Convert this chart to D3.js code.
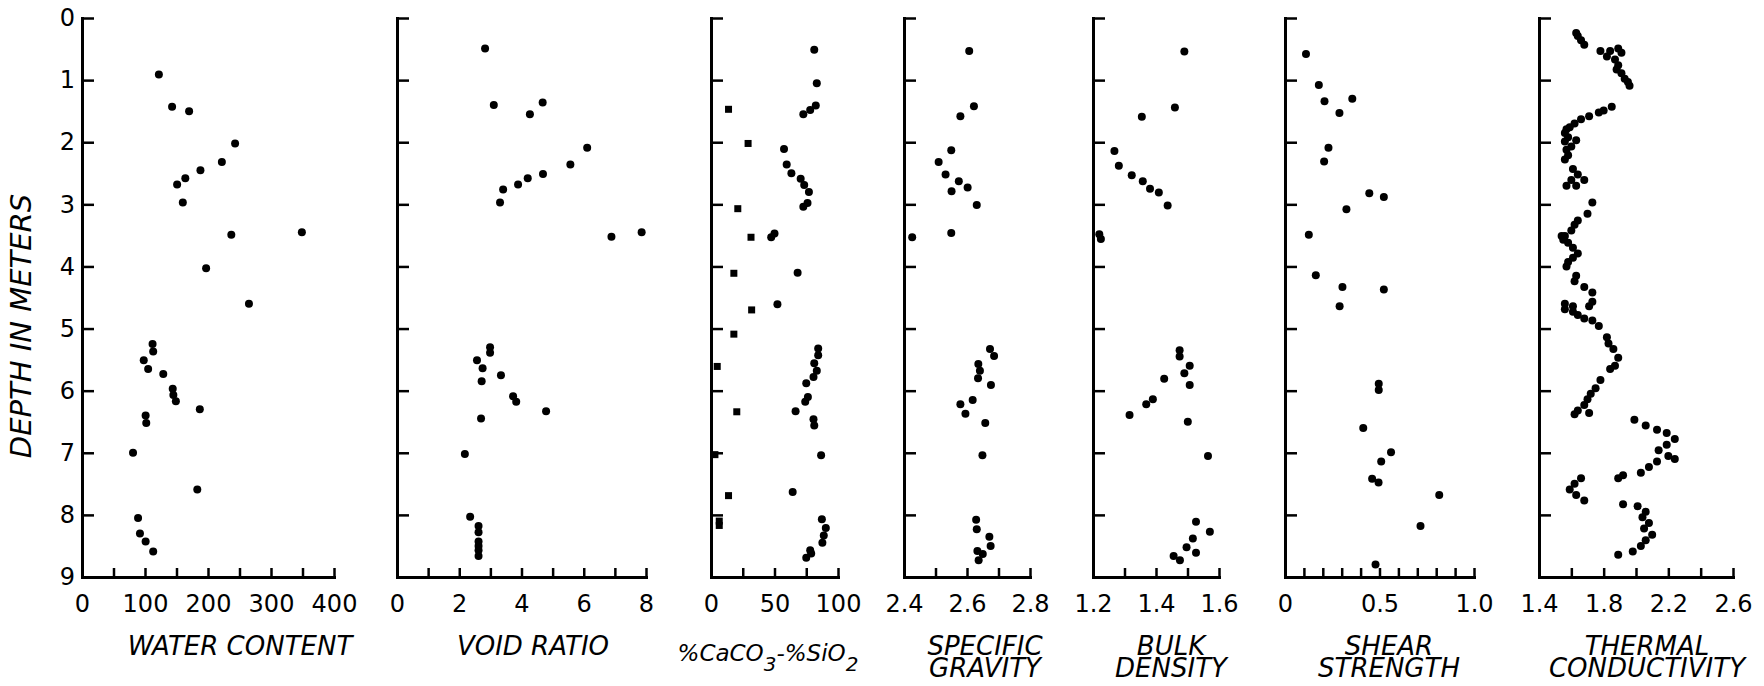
<!DOCTYPE html>
<html><head><meta charset="utf-8">
<script src="https://cdn.jsdelivr.net/npm/d3@7"></script>
<style>body{margin:0;background:#fff}svg{display:block}</style>
</head><body>
<svg id="chart" width="1764" height="686"></svg>
<script>
// ---------- data ----------
const depthTicks = [0,1,2,3,4,5,6,7,8,9];

const waterDepth = [0.91,1.43,1.50,2.02,2.32,2.45,2.58,2.68,2.97,3.49,3.45,4.03,4.60,5.25,5.37,5.51,5.65,5.73,5.97,6.07,6.17,6.30,6.40,6.52,7.00,7.59,8.05,8.30,8.43,8.59];
const waterContent = [122,143,170,243,222,188,164,151,160,237,349,197,265,112,113,98,105,129,144,145,149,187,101,102,81,183,89,92,101,113];
const waterTicks = [0,50,100,150,200,250,300,350,400];
const waterLabels = [0,100,200,300,400];

const voidDepth = [0.49,1.40,1.36,1.55,2.09,2.36,2.51,2.58,2.68,2.76,2.97,3.52,3.45,5.30,5.39,5.51,5.64,5.75,5.85,6.09,6.18,6.33,6.45,7.02,8.03,8.18,8.28,8.43,8.50,8.57,8.66];
const voidRatio = [2.83,3.11,4.68,4.27,6.11,5.57,4.69,4.20,3.89,3.41,3.31,6.89,7.86,2.99,2.99,2.57,2.75,3.34,2.72,3.73,3.83,4.79,2.70,2.18,2.35,2.62,2.62,2.62,2.62,2.62,2.62];
const voidTicks = [0,1,2,3,4,5,6,7,8];
const voidLabels = [0,2,4,6,8];

const carbDepth = [0.51,1.05,1.41,1.48,1.55,2.11,2.36,2.50,2.59,2.69,2.80,2.98,3.04,3.47,3.53,4.10,4.61,5.32,5.43,5.56,5.68,5.78,5.88,6.10,6.18,6.33,6.46,6.56,7.04,7.63,8.07,8.21,8.33,8.45,8.57,8.62,8.69];
const carbPct = [81.3,83.3,82.5,78.1,72.7,57.5,59.6,63.3,70.6,73.4,77.1,76.0,72.7,50.0,47.4,68.2,52.3,84.4,84.4,81.3,83.3,80.7,75.0,76.3,74.2,66.6,80.7,81.3,86.7,64.3,87.3,90.4,88.8,87.7,78.1,78.9,75.0];
const silicaDepth = [1.47,2.02,3.07,3.53,4.11,4.70,5.09,5.61,6.34,7.03,7.69,8.10,8.17];
const silicaPct = [13.8,29.2,21.1,31.5,18.0,32.0,18.0,4.9,20.3,3.1,13.8,6.5,6.5];
const chemTicks = [0,25,50,75,100];
const chemLabels = [0,50,100];

const sgDepth = [0.53,1.42,1.58,2.13,2.32,2.52,2.63,2.73,2.79,3.01,3.46,3.53,5.33,5.44,5.57,5.68,5.80,5.91,6.15,6.22,6.37,6.52,7.04,8.08,8.23,8.35,8.50,8.58,8.63,8.73];
const sgValue = [2.607,2.622,2.579,2.550,2.510,2.532,2.574,2.602,2.551,2.631,2.550,2.426,2.673,2.686,2.636,2.641,2.635,2.676,2.618,2.579,2.595,2.658,2.649,2.629,2.631,2.671,2.675,2.633,2.650,2.637];
const sgTicks = [2.4,2.5,2.6,2.7,2.8];
const sgLabels = [2.4,2.6,2.8];

const bdDepth = [0.54,1.44,1.59,2.14,2.38,2.53,2.63,2.75,2.81,3.02,3.48,3.56,5.35,5.45,5.60,5.72,5.81,5.91,6.14,6.22,6.39,6.50,7.05,8.11,8.27,8.38,8.52,8.61,8.66,8.73];
const bdValue = [1.490,1.460,1.355,1.268,1.282,1.323,1.358,1.381,1.409,1.437,1.220,1.225,1.475,1.475,1.507,1.490,1.426,1.507,1.390,1.369,1.316,1.501,1.565,1.527,1.571,1.517,1.497,1.527,1.456,1.476];
const bdTicks = [1.2,1.3,1.4,1.5,1.6];
const bdLabels = [1.2,1.4,1.6];

const shearDepth = [0.58,1.08,1.34,1.30,1.53,2.09,2.31,2.82,2.88,3.08,3.49,4.14,4.33,4.37,4.64,5.89,5.99,6.60,6.99,7.14,7.42,7.48,7.68,8.18,8.80];
const shearValue = [0.111,0.179,0.209,0.356,0.288,0.230,0.207,0.446,0.523,0.325,0.126,0.163,0.304,0.523,0.289,0.496,0.496,0.414,0.561,0.509,0.461,0.495,0.816,0.717,0.479];
const shearTicks = [0,0.1,0.2,0.3,0.4,0.5,0.6,0.7,0.8,0.9,1.0];
const shearLabels = [0,0.5,1.0];

const tcDepth = [0.24,0.29,0.36,0.43,0.53,0.53,0.49,0.56,0.62,0.67,0.76,0.83,0.89,0.98,1.03,1.09,1.43,1.49,1.52,1.58,1.63,1.70,1.76,1.79,1.85,1.92,1.99,2.07,1.97,2.12,2.21,2.28,2.43,2.52,2.61,2.70,2.70,2.61,2.97,3.15,3.26,3.33,3.42,3.51,3.51,3.57,3.62,3.70,3.79,3.86,3.93,4.00,4.15,4.24,4.33,4.42,4.57,4.64,4.64,4.60,4.69,4.73,4.78,4.84,4.87,4.96,5.14,5.24,5.33,5.47,5.60,5.65,5.83,5.96,6.05,6.14,6.23,6.32,6.38,6.36,6.47,6.56,6.63,6.68,6.78,6.87,6.96,7.05,7.10,7.14,7.23,7.32,7.36,7.41,7.41,7.50,7.59,7.68,7.77,7.83,7.86,7.95,8.04,8.13,8.22,8.32,8.41,8.50,8.59,8.64];
const tcValue = [1.63,1.64,1.66,1.68,1.78,1.84,1.89,1.91,1.82,1.87,1.89,1.88,1.91,1.93,1.95,1.96,1.85,1.80,1.77,1.71,1.66,1.62,1.59,1.57,1.56,1.58,1.56,1.60,1.63,1.57,1.58,1.56,1.61,1.64,1.60,1.57,1.63,1.68,1.73,1.70,1.64,1.62,1.60,1.56,1.54,1.55,1.58,1.61,1.64,1.61,1.58,1.57,1.63,1.62,1.68,1.73,1.73,1.71,1.61,1.56,1.56,1.61,1.64,1.68,1.73,1.77,1.82,1.83,1.86,1.89,1.87,1.84,1.78,1.75,1.72,1.70,1.68,1.64,1.62,1.71,1.99,2.06,2.13,2.19,2.24,2.19,2.14,2.20,2.24,2.13,2.08,2.03,1.92,1.89,1.66,1.62,1.59,1.63,1.68,1.92,2.01,2.06,2.04,2.08,2.05,2.10,2.06,2.03,1.98,1.89];
const tcTicks = [1.4,1.6,1.8,2.0,2.2,2.4,2.6];
const tcLabels = [1.4,1.8,2.2,2.6];

// ---------- layout ----------
const svg = d3.select("#chart");
const y = d3.scaleLinear().domain([0, 9]).range([18, 577]);
const fontTick = "'DejaVu Sans', sans-serif";

const panels = [
  {depth: waterDepth, vals: waterContent, ticks: waterTicks, labels: waterLabels, dom:[0,400], rng:[82,334], title:["WATER CONTENT"], tx:240, yLabels:true},
  {depth: voidDepth, vals: voidRatio, ticks: voidTicks, labels: voidLabels, dom:[0,8], rng:[397,646], title:["VOID RATIO"], tx:533},
  {depth: carbDepth, vals: carbPct, sq:{depth: silicaDepth, vals: silicaPct}, ticks: chemTicks, labels: chemLabels, dom:[0,100], rng:[711,838], chem:true, tx:768},
  {depth: sgDepth, vals: sgValue, ticks: sgTicks, labels: sgLabels, dom:[2.4,2.8], rng:[904,1030], title:["SPECIFIC","GRAVITY"], tx:985},
  {depth: bdDepth, vals: bdValue, ticks: bdTicks, labels: bdLabels, dom:[1.2,1.6], rng:[1093,1219], title:["BULK","DENSITY"], tx:1171},
  {depth: shearDepth, vals: shearValue, ticks: shearTicks, labels: shearLabels, dom:[0,1], rng:[1285,1474], title:["SHEAR","STRENGTH"], tx:1389, fmt: d => d===0 ? "0" : d3.format(".1f")(d)},
  {depth: tcDepth, vals: tcValue, ticks: tcTicks, labels: tcLabels, dom:[1.4,2.6], rng:[1539,1733], title:["THERMAL","CONDUCTIVITY"], tx:1647}
];

panels.forEach(p => {
  const x = d3.scaleLinear().domain(p.dom).range(p.rng);
  const g = svg.append("g");
  const fmt = p.fmt || (d => String(d));
  const isLabel = v => p.labels.some(l => Math.abs(l - v) < 1e-9);

  const xa = g.append("g").attr("transform", `translate(0,${y(9)})`)
    .call(d3.axisBottom(x).tickValues(p.ticks).tickSizeInner(-9).tickSizeOuter(0).tickPadding(18)
      .tickFormat(d => isLabel(d) ? fmt(d) : ""));
  xa.selectAll(".tick text").filter(function(){ return this.textContent === ""; }).remove();
  const ya = g.append("g").attr("transform", `translate(${p.rng[0]},0)`)
    .call(d3.axisLeft(y).tickValues(depthTicks).tickSizeInner(-12).tickSizeOuter(0).tickPadding(7)
      .tickFormat(d => p.yLabels ? String(d) : ""));
  if (!p.yLabels) ya.selectAll(".tick text").remove();
  [xa, ya].forEach(a => {
    a.select(".domain").attr("stroke", "#000").attr("stroke-width", 3).attr("stroke-linecap", "square");
    a.selectAll(".tick line").attr("stroke", "#000").attr("stroke-width", 2.5);
    a.selectAll(".tick text").attr("font-family", fontTick).attr("font-size", 24).attr("fill", "#000");
  });

  g.append("g").selectAll("circle").data(p.vals).join("circle")
    .attr("cx", d => x(d)).attr("cy", (d, i) => y(p.depth[i])).attr("r", 4).attr("fill", "#000");
  if (p.sq) {
    g.append("g").selectAll("rect").data(p.sq.vals).join("rect")
      .attr("x", d => x(d) - 3.5).attr("y", (d, i) => y(p.sq.depth[i]) - 3.5)
      .attr("width", 7).attr("height", 7).attr("fill", "#000");
  }

  const tfont = "'DejaVu Sans', sans-serif";
  if (p.chem) {
    const t = g.append("text").attr("x", p.tx).attr("y", 661).attr("text-anchor", "middle")
      .attr("font-family", tfont).attr("font-style", "italic").attr("font-size", 23).attr("fill", "#000");
    t.append("tspan").text("%CaCO");
    t.append("tspan").attr("dy", 10).attr("font-size", 20).text("3");
    t.append("tspan").attr("dy", -10).text("-%SiO");
    t.append("tspan").attr("dy", 10).attr("font-size", 20).text("2");
  } else {
    p.title.forEach((line, i) => {
      g.append("text").attr("x", p.tx).attr("y", 655 + i * 22).attr("text-anchor", "middle")
        .attr("font-family", tfont).attr("font-style", "italic").attr("font-size", 26).attr("fill", "#000")
        .text(line);
    });
  }
});

svg.append("text").attr("transform", "translate(31,326) rotate(-90)").attr("text-anchor", "middle")
  .attr("font-family", "'DejaVu Sans', sans-serif").attr("font-style", "italic").attr("font-size", 29)
  .attr("fill", "#000").text("DEPTH IN METERS");
</script>
</body></html>
